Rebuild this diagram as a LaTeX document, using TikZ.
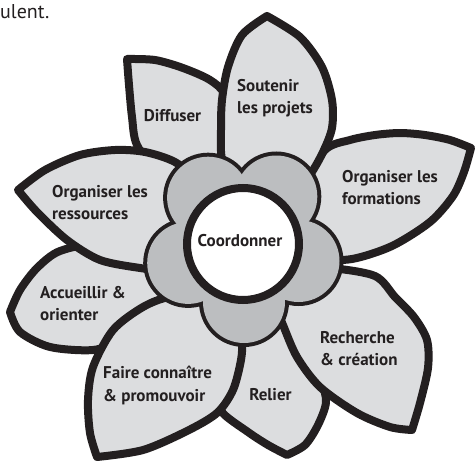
\documentclass[tikz,border=0pt]{standalone}
\usepackage{fontspec}
\setmainfont{PT Sans}
\definecolor{ink}{HTML}{231F20}
\definecolor{petalgray}{HTML}{DCDDDF}
\definecolor{hubgray}{HTML}{BCBEC0}
\tikzset{
  petal/.style={fill=petalgray, draw=ink, line width=8pt, line join=round},
  lbl/.style={font=\bfseries\fontsize{17}{22.5}\selectfont, text=ink, align=left, inner sep=0pt},
  hubring/.style={draw=ink, line width=8pt},
}
\begin{document}
\begin{tikzpicture}[x=1pt,y=-1pt]
\useasboundingbox (0,0) rectangle (475,461);
% fragment of text above
\node[anchor=base west, font=\fontsize{20}{24}\selectfont, text=ink, inner sep=0pt] (frag) at (0,18) {ulent.};

% petals
% Organiser les formations
\draw[petal] plot[smooth] coordinates {(300,190) (325,150) (350,140) (375,135) (400,133) (425,135) (450,140) (471,148)}
  -- plot[smooth] coordinates {(471,148) (464,172) (453,196) (430,222) (392,246) (352,259) (320,258) (295,240)} -- cycle;
% Diffuser
\draw[petal] plot[smooth] coordinates {(235,190) (232,130) (225,95) (210,80) (183,68) (155,60) (127,59)}
  -- plot[smooth] coordinates {(127,59) (129,85) (132,117) (137,145) (160,175) (200,200)} -- cycle;
% Soutenir les projets
\draw[petal] plot[smooth] coordinates {(235,210) (222,160) (221,130) (222,100) (228,67) (242,35) (267,16)}
  -- plot[smooth] coordinates {(267,16) (300,37) (322,67) (332,100) (332,128) (323,152) (310,175) (285,210)} -- cycle;
% Accueillir & orienter
\draw[petal] plot[smooth] coordinates {(190,290) (150,320) (120,340) (93,350) (50,347) (20,332) (10,312)}
  -- plot[smooth] coordinates {(10,312) (20,290) (37,268) (60,251) (100,245) (180,260)} -- cycle;
% Organiser les ressources
\draw[petal] plot[smooth] coordinates {(185,268) (163,270) (140,268) (100,260) (67,240) (37,212) (18,190)}
  -- plot[smooth] coordinates {(18,190) (45,170) (80,155) (115,150) (145,152) (175,162) (200,182)} -- cycle;
% Relier
\draw[petal] plot[smooth] coordinates {(250,310) (232,360) (224,395) (222,412) (248,432) (268,445) (287,455)}
  -- plot[smooth] coordinates {(287,455) (305,445) (318,425) (326,402) (320,380) (295,335) (265,310)} -- cycle;
% Recherche & creation
\draw[petal] plot[smooth] coordinates {(272,298) (283,325) (297,357) (320,387) (357,413) (390,427) (412,430)}
  -- plot[smooth] coordinates {(412,430) (420,403) (428,368) (427,340) (414,317) (395,297) (375,276) (330,268) (300,270)} -- cycle;
% Faire connaitre & promouvoir
\draw[petal] plot[smooth] coordinates {(238,310) (242,340) (241,360) (233,390) (217,413) (187,431) (143,450) (97,457)}
  -- plot[smooth] coordinates {(97,457) (90,433) (88,400) (93,367) (113,330) (143,307) (170,297) (200,300)} -- cycle;

% central scalloped hub
\coordinate (hc) at (243,244);
\coordinate (h1) at (276.3,196.5);
\coordinate (h2) at (208.1,197.7);
\coordinate (h3) at (188.2,262.9);
\coordinate (h4) at (244.0,302.0);
\coordinate (h5) at (298.5,261.0);
\foreach \h in {h1,h2,h3,h4,h5}{
  \draw[hubring] (\h) circle[radius=41pt];
}
\foreach \h in {h1,h2,h3,h4,h5}{
  \fill[hubgray] (\h) circle[radius=41pt];
}
\fill[hubgray] (hc) circle[radius=62pt];

% centre circle
\node[circle, draw=ink, line width=8pt, fill=white, minimum size=112pt, inner sep=0pt] (core) at (hc) {};

% labels
\node[lbl, anchor=base] (tcoord) at (240,246) {Coordonner};
\node[lbl, anchor=base] (tdiff) at (172.5,121) {Diffuser};
\node[lbl, anchor=north west] (tsout) at (237,79) {Soutenir\\les projets};
\node[lbl, anchor=north west] (tform) at (342,170) {Organiser les\\formations};
\node[lbl, anchor=north west] (tress) at (52,185) {Organiser les\\ressources};
\node[lbl, anchor=north west] (tacc) at (40,286) {Accueillir \&\\orienter};
\node[lbl, anchor=north west] (tfaire) at (103,366) {Faire connaître\\\& promouvoir};
\node[lbl, anchor=base] (trel) at (270.5,400) {Relier};
\node[lbl, anchor=north west] (trech) at (320,331) {Recherche\\\& création};
\end{tikzpicture}
\end{document}
